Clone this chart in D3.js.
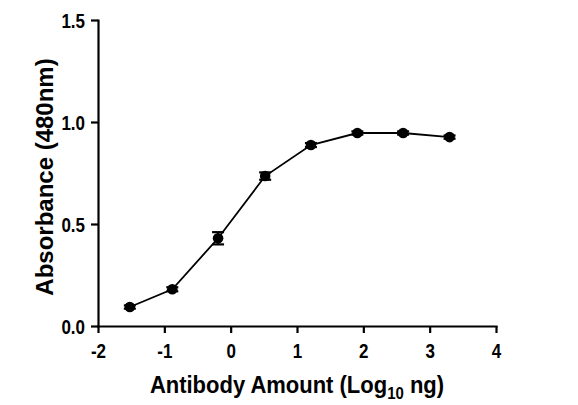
<!DOCTYPE html>
<head>
  <meta charset="utf-8">
  <script src="https://d3js.org/d3.v7.min.js"></script>
  <style>
    body { margin: 0; background: #fff; }
    text { font-family: "Liberation Sans", Arial, sans-serif; font-weight: bold; fill: #000; }
    .axis path, .axis line { stroke: #000; stroke-width: 2.2px; }
  </style>
</head>
<body>
  <svg width="578" height="405"></svg>
  <script>

  // Data
  var logAmount = [-1.52, -0.88, -0.19, 0.52, 1.21, 1.91, 2.60, 3.30];
  var absorbance = [0.093, 0.180, 0.430, 0.735, 0.887, 0.946, 0.946, 0.926];
  var errors = [0.008, 0.010, 0.030, 0.018, 0.010, 0.008, 0.008, 0.008];
  var xTicks = [-2, -1, 0, 1, 2, 3, 4];
  var yTicks = [0.0, 0.5, 1.0, 1.5];

  var data = logAmount.map(function(d, i) {
    return {x: d, y: absorbance[i], err: errors[i]};
  });

  var svg = d3.select('svg');
  var margin = {top: 20, right: 82, bottom: 79, left: 98};
  var width = +svg.attr('width') - margin.left - margin.right;
  var height = +svg.attr('height') - margin.top - margin.bottom;

  var x = d3.scaleLinear().domain([-2, 4]).range([0, width]);
  var y = d3.scaleLinear().domain([0, 1.5]).range([height, 0]);

  var g = svg.append('g')
    .attr('transform', 'translate(' + margin.left + ',' + margin.top + ')');

  // Axes (hyphen minus like the original, labels a bit stretched vertically)
  var xAxis = d3.axisBottom(x).tickValues(xTicks).tickSize(7).tickSizeOuter(0)
    .tickFormat(function(d) { return String(d); });
  var yAxis = d3.axisLeft(y).tickValues(yTicks).tickSize(7).tickSizeOuter(0)
    .tickFormat(d3.format('.1f'));

  var gx = g.append('g')
    .attr('class', 'axis axis-x')
    .attr('transform', 'translate(0,' + height + ')')
    .call(xAxis);
  gx.selectAll('text')
    .attr('font-size', 17)
    .attr('y', 0).attr('dy', 0)
    .attr('transform', 'translate(0,32) scale(1,1.15)');

  var gy = g.append('g')
    .attr('class', 'axis axis-y')
    .call(yAxis);
  gy.selectAll('text')
    .attr('font-size', 17)
    .attr('x', 0).attr('dy', 0)
    .attr('transform', 'translate(-13,7) scale(1,1.15)');
  svg.selectAll('.axis path').attr('stroke-linecap', 'square');

  // Curve through the points
  var line = d3.line()
    .x(function(d) { return x(d.x); })
    .y(function(d) { return y(d.y); });

  g.append('path')
    .datum(data)
    .attr('fill', 'none')
    .attr('stroke', '#000')
    .attr('stroke-width', 1.8)
    .attr('d', line);

  // Error bars
  var eb = g.selectAll('.err')
    .data(data)
    .enter().append('g')
    .attr('class', 'err');

  eb.append('line')
    .attr('x1', function(d) { return x(d.x); })
    .attr('x2', function(d) { return x(d.x); })
    .attr('y1', function(d) { return y(d.y - d.err); })
    .attr('y2', function(d) { return y(d.y + d.err); })
    .attr('stroke', '#000').attr('stroke-width', 2);

  [1, -1].forEach(function(s) {
    eb.append('line')
      .attr('x1', function(d) { return x(d.x) - 6; })
      .attr('x2', function(d) { return x(d.x) + 6; })
      .attr('y1', function(d) { return y(d.y + s * d.err); })
      .attr('y2', function(d) { return y(d.y + s * d.err); })
      .attr('stroke', '#000').attr('stroke-width', 2.2);
  });

  // Markers
  g.selectAll('.dot')
    .data(data)
    .enter().append('circle')
    .attr('class', 'dot')
    .attr('cx', function(d) { return x(d.x); })
    .attr('cy', function(d) { return y(d.y); })
    .attr('r', 5.3)
    .attr('fill', '#000');

  // Axis titles
  var xTitle = svg.append('text')
    .attr('transform', 'translate(' + (margin.left + width / 2) + ',393) scale(1,1.1)')
    .attr('text-anchor', 'middle')
    .attr('font-size', 22);
  xTitle.append('tspan').text('Antibody Amount (Log');
  xTitle.append('tspan').attr('font-size', 15).attr('dy', 5).text('10');
  xTitle.append('tspan').attr('dy', -5).text(' ng)');

  svg.append('text')
    .attr('transform', 'translate(53,177) rotate(-90)')
    .attr('text-anchor', 'middle')
    .attr('font-size', 24)
    .text('Absorbance (480nm)');

  </script>
</body>
